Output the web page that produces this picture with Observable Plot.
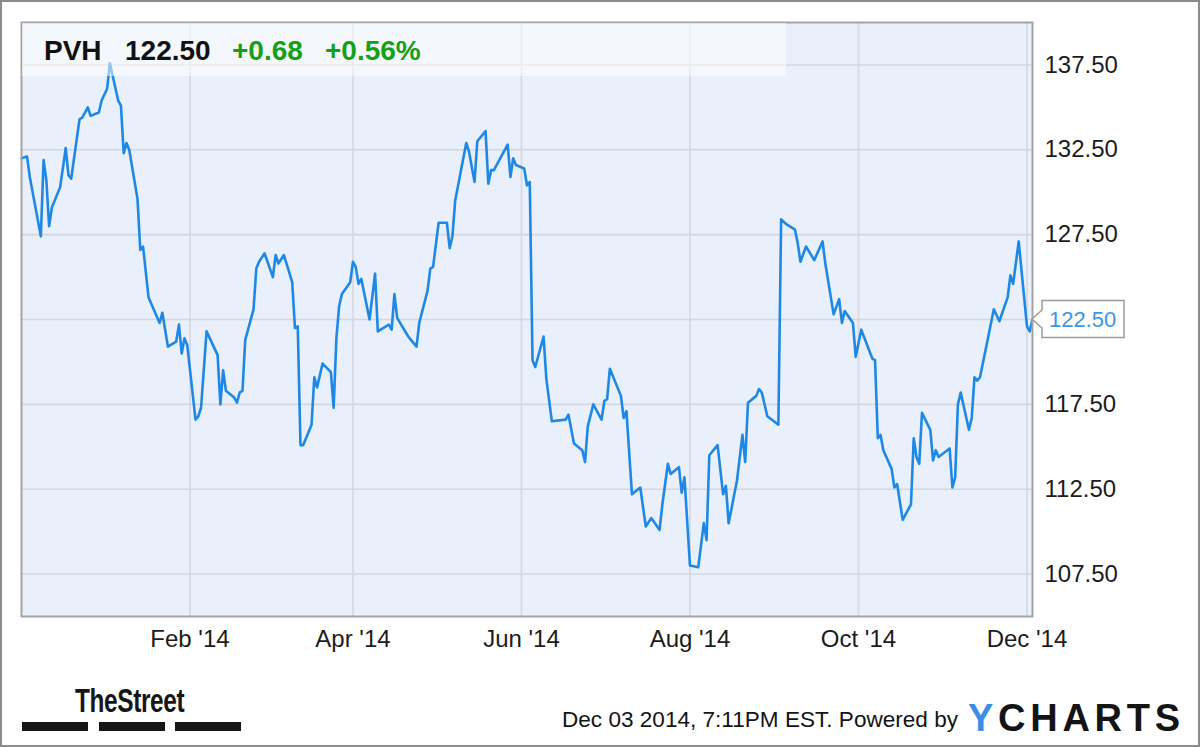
<!DOCTYPE html>
<html>
<head>
<meta charset="utf-8">
<script src="https://cdn.jsdelivr.net/npm/d3@7"></script>
<script src="https://cdn.jsdelivr.net/npm/@observablehq/plot@0.6"></script>
<style>
  html, body { margin: 0; padding: 0; background: #ffffff; }
  #wrap { position: relative; width: 1200px; height: 747px; overflow: hidden; background: #fff;
          font-family: "Liberation Sans", Arial, sans-serif; }
  #wrap > svg { position: absolute; left: 0; top: 0; }
</style>
</head>
<body>
<div id="wrap"></div>
<script>
// ---- Data ----
const ticker = "PVH";
const change = 0.68;
const changePct = 0.56;

const dates = [
"2013-12-02","2013-12-04","2013-12-05","2013-12-09","2013-12-10","2013-12-11","2013-12-12","2013-12-13","2013-12-16","2013-12-18","2013-12-19","2013-12-20","2013-12-23","2013-12-24","2013-12-26","2013-12-27","2013-12-30","2013-12-31",
"2014-01-02","2014-01-03","2014-01-06","2014-01-07","2014-01-08","2014-01-09","2014-01-10","2014-01-13","2014-01-14","2014-01-15","2014-01-17","2014-01-21","2014-01-22","2014-01-24","2014-01-27","2014-01-28","2014-01-29","2014-01-30","2014-01-31",
"2014-02-03","2014-02-04","2014-02-05","2014-02-07","2014-02-11","2014-02-12","2014-02-13","2014-02-14","2014-02-17","2014-02-18","2014-02-19","2014-02-20","2014-02-21","2014-02-24","2014-02-25","2014-02-26","2014-02-28",
"2014-03-03","2014-03-04","2014-03-05","2014-03-07","2014-03-10","2014-03-11","2014-03-12","2014-03-13","2014-03-14","2014-03-17","2014-03-18","2014-03-19","2014-03-21","2014-03-24","2014-03-25","2014-03-26","2014-03-27","2014-03-28","2014-03-31",
"2014-04-01","2014-04-02","2014-04-03","2014-04-04","2014-04-07","2014-04-09","2014-04-10","2014-04-14","2014-04-15","2014-04-16","2014-04-17","2014-04-21","2014-04-22","2014-04-24","2014-04-25","2014-04-28","2014-04-29","2014-04-30",
"2014-05-02","2014-05-05","2014-05-06","2014-05-07","2014-05-08","2014-05-12","2014-05-13","2014-05-15","2014-05-16","2014-05-19","2014-05-20","2014-05-21","2014-05-22","2014-05-27","2014-05-28","2014-05-29","2014-05-30",
"2014-06-02","2014-06-03","2014-06-04","2014-06-05","2014-06-06","2014-06-09","2014-06-10","2014-06-12","2014-06-17","2014-06-18","2014-06-20","2014-06-23","2014-06-24","2014-06-25","2014-06-27","2014-06-30",
"2014-07-01","2014-07-02","2014-07-03","2014-07-07","2014-07-08","2014-07-09","2014-07-11","2014-07-14","2014-07-16","2014-07-18","2014-07-21","2014-07-22","2014-07-24","2014-07-25","2014-07-28","2014-07-29","2014-07-30",
"2014-08-01","2014-08-04","2014-08-06","2014-08-07","2014-08-08","2014-08-11","2014-08-13","2014-08-14","2014-08-15","2014-08-18","2014-08-20","2014-08-21","2014-08-22","2014-08-25","2014-08-26","2014-08-27","2014-08-29",
"2014-09-02","2014-09-03","2014-09-05","2014-09-08","2014-09-09","2014-09-10","2014-09-12","2014-09-15","2014-09-18","2014-09-19","2014-09-22","2014-09-24","2014-09-25","2014-09-26","2014-09-29","2014-09-30",
"2014-10-02","2014-10-06","2014-10-07","2014-10-08","2014-10-09","2014-10-10","2014-10-13","2014-10-14","2014-10-15","2014-10-17","2014-10-20","2014-10-21","2014-10-22","2014-10-23","2014-10-24","2014-10-27","2014-10-28","2014-10-29","2014-10-30",
"2014-11-03","2014-11-04","2014-11-05","2014-11-06","2014-11-07","2014-11-10","2014-11-11","2014-11-12","2014-11-13","2014-11-14","2014-11-17","2014-11-19","2014-11-21","2014-11-24","2014-11-25","2014-11-26","2014-11-28",
"2014-12-01","2014-12-02","2014-12-03"
];

const closes = [
132.0,132.1,130.9,127.4,131.9,130.7,128.0,129.1,130.3,132.6,131.0,130.8,134.3,134.4,135.0,134.5,134.7,135.4,
136.1,137.6,135.4,135.1,132.3,132.9,132.5,129.6,126.6,126.8,123.8,122.3,122.9,120.9,121.2,122.2,120.5,121.4,121.0,
116.6,116.8,117.3,121.8,120.4,117.5,119.5,118.3,117.9,117.6,118.2,118.3,121.3,123.1,125.5,125.9,126.4,
125.0,126.3,125.8,126.3,124.7,122.0,122.1,115.1,115.1,116.3,119.1,118.5,119.9,119.4,117.3,121.4,123.3,124.0,124.7,
125.9,125.6,124.6,124.9,122.5,125.2,121.8,122.2,121.9,124.0,122.6,121.5,121.3,120.9,122.3,124.2,125.5,125.6,
128.2,128.2,126.7,127.4,129.5,132.9,132.4,130.6,133.0,133.6,130.5,131.3,131.3,132.8,130.9,132.0,131.6,
131.4,130.4,130.6,120.1,119.7,121.5,119.0,116.5,116.6,116.9,115.2,114.8,114.1,116.2,117.5,116.6,
117.7,117.8,119.6,118.0,116.7,117.1,112.2,112.6,110.3,110.8,110.1,111.6,114.0,113.4,113.8,112.3,113.2,
108.0,107.9,110.5,109.5,114.5,115.1,112.2,112.7,110.5,113.0,115.7,114.1,117.6,118.0,118.4,118.2,116.8,
116.3,128.4,128.1,127.8,127.0,125.9,126.8,126.0,127.1,125.8,122.8,123.7,122.3,123.0,122.3,120.3,
121.9,120.2,120.1,115.5,115.7,114.8,113.7,112.6,112.8,110.7,111.6,115.5,114.4,114.0,117.0,116.0,114.2,114.8,114.4,
114.9,112.6,113.2,117.5,118.2,116.0,116.7,119.1,118.9,119.1,121.5,123.1,122.4,123.8,125.1,124.6,127.1,
122.1,121.8,122.5
];

const yTicks = [107.5, 112.5, 117.5, 122.5, 127.5, 132.5, 137.5];
const xTicks = ["2014-02-01", "2014-04-01", "2014-06-01", "2014-08-01", "2014-10-01", "2014-12-01"];
const xTickLabels = ["Feb '14", "Apr '14", "Jun '14", "Aug '14", "Oct '14", "Dec '14"];
const xDomain = ["2013-12-02", "2014-12-03"];
const yDomain = [105, 140];
const stampText = "Dec 03 2014, 7:11PM EST.";

(function () {
  const data = dates.map((d, i) => ({date: new Date(d), close: closes[i]}));
  const xTickDates = xTicks.map(d => new Date(d));
  const fmtDay = d3.utcFormat("%Y-%m-%d");
  const labelFor = d => xTickLabels[xTicks.indexOf(fmtDay(d))];
  const last = closes[closes.length - 1];
  // the last-value tag covers the axis label next to it (as in the reference)
  const yLabelTicks = yTicks.filter(t => Math.abs(t - last) > 1.2);

  const FONT = "'Liberation Sans', Arial, Helvetica, sans-serif";
  const gridColor = "#d4d7dc";

  const plot = Plot.plot({
    width: 1200,
    height: 747,
    marginLeft: 21,
    marginTop: 22,
    marginRight: 168,
    marginBottom: 131,
    style: {fontFamily: FONT, background: "transparent", overflow: "visible"},
    x: {type: "utc", domain: xDomain.map(d => new Date(d))},
    y: {domain: yDomain},
    marks: [
      Plot.frame({fill: "#e9f0fb", stroke: "none"}),
      Plot.gridY(yTicks, {stroke: gridColor, strokeOpacity: 1, strokeWidth: 1.6}),
      Plot.gridX(xTickDates, {stroke: gridColor, strokeOpacity: 1, strokeWidth: 1.6}),
      Plot.line(data, {x: "date", y: "close", stroke: "#1f88e6", strokeWidth: 2.6, strokeLinejoin: "round"}),
      Plot.frame({stroke: "#a4a4a4", strokeWidth: 2}),
      Plot.axisY(yLabelTicks, {anchor: "right", tickSize: 0, tickPadding: 12, tickFormat: d3.format(".2f"),
        fontSize: 24, fill: "#1c1c1c", label: null}),
      Plot.axisX(xTickDates, {anchor: "bottom", tickSize: 0, tickPadding: 13, tickFormat: labelFor,
        fontSize: 24, fill: "#1c1c1c", label: null})
    ]
  });

  const wrap = document.getElementById("wrap");
  wrap.appendChild(plot);

  const yScale = plot.scale("y");
  const yLast = yScale.apply(last);

  const ov = d3.select(wrap).append("svg")
    .attr("width", 1200).attr("height", 747)
    .style("font-family", FONT);

  // translucent header band over plot
  ov.append("rect").attr("x", 22).attr("y", 23).attr("width", 764).attr("height", 53)
    .attr("fill", "#ffffff").attr("fill-opacity", 0.5);

  const hdr = ov.append("g").attr("font-weight", "bold").attr("font-size", 28);
  hdr.append("text").attr("x", 44).attr("y", 60).attr("fill", "#111").text(ticker);
  hdr.append("text").attr("x", 125).attr("y", 60).attr("fill", "#111").text(last.toFixed(2));
  hdr.append("text").attr("x", 232).attr("y", 60).attr("fill", "#16a016").text("+" + change.toFixed(2));
  hdr.append("text").attr("x", 325).attr("y", 60).attr("fill", "#16a016").text("+" + changePct.toFixed(2) + "%");

  // last value tag
  const tx = 1032, bx = 1042, bw = 82, bh = 37;
  const tagTop = yLast - bh / 2;
  ov.append("path")
    .attr("d", `M${tx},${yLast} L${bx},${yLast - 9} L${bx},${tagTop} L${bx + bw},${tagTop} L${bx + bw},${tagTop + bh} L${bx},${tagTop + bh} L${bx},${yLast + 9} Z`)
    .attr("fill", "#ffffff").attr("stroke", "#9a9a9a").attr("stroke-width", 1.5);
  ov.append("text").attr("x", bx + 7).attr("y", yLast + 8).attr("font-size", 22)
    .attr("fill", "#3a96e8").text(last.toFixed(2));

  // footer: TheStreet logo
  ov.append("text").attr("transform", "translate(75,712) scale(0.74,1)")
    .attr("font-size", 33).attr("font-weight", "bold").attr("letter-spacing", -0.5)
    .attr("fill", "#161616").text("TheStreet");
  [22, 99, 175].forEach(x => ov.append("rect").attr("x", x).attr("y", 722).attr("width", 66).attr("height", 9).attr("fill", "#161616"));

  // footer: timestamp + powered by
  ov.append("text").attr("x", 562).attr("y", 727).attr("font-size", 22).attr("fill", "#141414")
    .attr("textLength", 396).attr("lengthAdjust", "spacingAndGlyphs")
    .text(stampText + "  Powered by");

  const yc = ov.append("text").attr("x", 968).attr("y", 731).attr("font-size", 38)
    .attr("font-weight", "bold").attr("textLength", 212).attr("lengthAdjust", "spacing");
  yc.append("tspan").attr("fill", "#3b8ee6").text("Y");
  yc.append("tspan").attr("fill", "#141414").text("CHARTS");

  // outer border
  ov.append("rect").attr("x", 1).attr("y", 1).attr("width", 1198).attr("height", 745)
    .attr("fill", "none").attr("stroke", "#8c8c8c").attr("stroke-width", 2);
})();
</script>
</body>
</html>
